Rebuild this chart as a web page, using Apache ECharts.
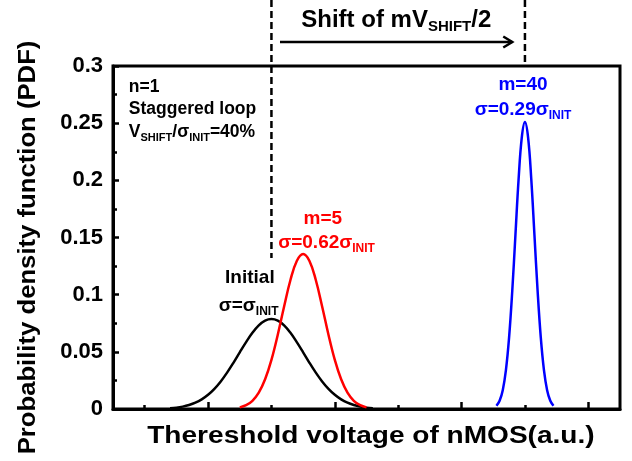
<!DOCTYPE html>
<html><head><meta charset="utf-8">
<script src="https://cdn.jsdelivr.net/npm/echarts@6/dist/echarts.min.js"></script>
<style>html,body{margin:0;padding:0;background:#fff}#c{width:632px;height:461px}</style>
</head><body><div id="c"></div>
<script>
// Initial distribution (black)
const initialX = [0.4,0.5,0.6,0.7,0.8,0.9,1.0,1.1,1.2,1.3,1.4,1.5,1.6,1.7,1.8,1.9,2.0,2.1,2.2,2.3,2.4,2.5,2.6,2.7,2.8,2.9,3.0,3.1,3.2,3.3,3.4,3.5,3.6];
const initialY = [0.0007,0.0012,0.0021,0.0035,0.0055,0.0084,0.0124,0.0176,0.0241,0.0318,0.0404,0.0496,0.0585,0.0666,0.0731,0.0773,0.0787,0.0773,0.0731,0.0666,0.0585,0.0496,0.0404,0.0318,0.0241,0.0176,0.0124,0.0084,0.0055,0.0035,0.0021,0.0012,0.0007];
// m=5 (red)
const m5X = [1.5,1.6,1.7,1.8,1.9,2.0,2.1,2.2,2.3,2.4,2.5,2.6,2.7,2.8,2.9,3.0,3.1,3.2,3.3,3.4,3.5];
const m5Y = [0.0014,0.0033,0.0072,0.0143,0.0260,0.0430,0.0650,0.0897,0.1128,0.1295,0.1356,0.1295,0.1128,0.0897,0.0650,0.0430,0.0260,0.0143,0.0072,0.0033,0.0014];
// m=40 (blue)
const m40X = [5.55,5.60,5.65,5.70,5.75,5.80,5.85,5.90,5.95,6.00,6.05,6.10,6.15,6.20,6.25,6.30,6.35,6.40,6.45];
const m40Y = [0.0028,0.0072,0.0165,0.0340,0.0626,0.1032,0.1522,0.2010,0.2374,0.2510,0.2374,0.2010,0.1522,0.1032,0.0626,0.0340,0.0165,0.0072,0.0028];
// axis ticks
const xMajorTicks = [1,3,5,7];
const xMinorTicks = [0,2,4,6];
const yMin = 0, yMax = 0.3, yInterval = 0.05;
const xMin = -0.5, xMax = 7.5;
const initialMean = 2.0, m40Mean = 6.0;

const pairs = (xs, ys) => xs.map((x, i) => [x, ys[i]]);
const FONT = 'Liberation Sans, Arial, sans-serif';

const chart = echarts.init(document.getElementById('c'), null, {renderer: 'canvas'});
const baseX = {
  type: 'value', min: xMin, max: xMax, gridIndex: 0, position: 'bottom',
  splitLine: {show: false}, axisLabel: {show: false}
};
const option = {
  backgroundColor: '#fff',
  animation: false,
  grid: {left: 113, right: 12, top: 66, bottom: 52, show: true, borderColor: '#000', borderWidth: 3, containLabel: false},
  xAxis: [
    Object.assign({}, baseX, {
      axisLine: {show: true, onZero: false, lineStyle: {color: '#000', width: 3}},
      axisTick: {show: true, inside: true, length: 7, customValues: xMajorTicks, lineStyle: {color: '#000', width: 2.5}}
    }),
    Object.assign({}, baseX, {
      axisLine: {show: false, onZero: false},
      axisTick: {show: true, inside: true, length: 4, customValues: xMinorTicks, lineStyle: {color: '#000', width: 2.5}}
    })
  ],
  yAxis: {
    type: 'value', min: yMin, max: yMax, interval: yInterval,
    splitLine: {show: false},
    axisLine: {show: true, onZero: false, lineStyle: {color: '#000', width: 3}},
    axisTick: {show: true, inside: true, length: 6, lineStyle: {color: '#000', width: 2.5}},
    minorTick: {show: true, splitNumber: 2, length: 4, lineStyle: {color: '#000', width: 2.5}},
    axisLabel: {color: '#000', fontSize: 22, fontWeight: 'bold', fontFamily: FONT, margin: 10}
  },
  series: [
    {type: 'line', data: pairs(initialX, initialY), smooth: 0.4, showSymbol: false, lineStyle: {color: '#000', width: 2.5}, z: 3},
    {type: 'line', data: pairs(m5X, m5Y), smooth: 0.4, showSymbol: false, lineStyle: {color: '#ff0000', width: 2.5}, z: 3},
    {type: 'line', data: pairs(m40X, m40Y), smooth: 0.4, showSymbol: false, lineStyle: {color: '#0000ff', width: 2.5}, z: 3}
  ]
};
chart.setOption(option);

const P = (x, y) => chart.convertToPixel({xAxisIndex: 0, yAxisIndex: 0}, [x, y]);
const topY = P(0, yMax)[1];
const botY = P(0, yMin)[1];

function rt(parts, size, color) {
  const subSize = Math.round(size * 0.63);
  return {
    text: parts,
    fill: color,
    font: 'bold ' + size + 'px ' + FONT,
    rich: {
      m: {fontSize: size, fontWeight: 'bold', fontFamily: FONT, color: color, lineHeight: size + 5},
      s: {fontSize: subSize, fontWeight: 'bold', fontFamily: FONT, color: color, lineHeight: subSize, verticalAlign: 'bottom'}
    }
  };
}
function label(xv, yv, parts, size, color, align) {
  const p = P(xv, yv);
  const st = rt(parts, size, color);
  st.align = align || 'center';
  st.verticalAlign = 'middle';
  return {type: 'text', x: p[0], y: p[1], z: 10, style: st};
}

const xl = P(initialMean, 0)[0];
const xr = P(m40Mean, 0)[0];
const arrowL = P(2.135, 0)[0];
const arrowR = P(5.80, 0)[0];
const arrowY = topY - 24;
const dash = {stroke: '#000', lineWidth: 2.5, lineDash: [7, 4]};
const solid = {stroke: '#000', lineWidth: 2.5};

const graphics = [
  {type: 'line', z: 5, shape: {x1: xl, y1: 0, x2: xl, y2: P(0, 0.132)[1]}, style: dash},
  {type: 'line', z: 5, shape: {x1: xr, y1: 0, x2: xr, y2: topY}, style: dash},
  {type: 'line', z: 5, shape: {x1: arrowL, y1: arrowY, x2: arrowR, y2: arrowY}, style: solid},
  {type: 'polyline', z: 5, shape: {points: [[arrowR - 9, arrowY - 5.5], [arrowR, arrowY], [arrowR - 9, arrowY + 5.5]]}, style: {stroke: '#000', lineWidth: 2.5, fill: null}},
  // header text
  (function () { const p = P(3.97, 0); const st = rt('{m|Shift of mV}{s|SHIFT}{m|/2}', 24, '#000'); st.align = 'center'; st.verticalAlign = 'middle'; return {type: 'text', x: p[0], y: topY - 46, z: 10, style: st}; })(),
  // left block
  label(-0.25, 0.2816, '{m|n=1}', 17.5, '#000', 'left'),
  label(-0.25, 0.2624, '{m|Staggered loop}', 17.5, '#000', 'left'),
  label(-0.25, 0.2425, '{m|V}{s|SHIFT}{m|/σ}{s|INIT}{m|=40%}', 17.5, '#000', 'left'),
  // initial
  label(1.66, 0.1146, '{m|Initial}', 19, '#000'),
  label(1.64, 0.0905, '{m|σ=σ}{s|INIT}', 19, '#000'),
  // m=5
  label(2.81, 0.1662, '{m|m=5}', 19, '#ff0000'),
  label(2.87, 0.1452, '{m|σ=0.62σ}{s|INIT}', 19, '#ff0000'),
  // m=40
  label(5.97, 0.2834, '{m|m=40}', 19, '#0000ff'),
  label(5.97, 0.2615, '{m|σ=0.29σ}{s|INIT}', 19, '#0000ff'),
  // axis titles
  {type: 'text', x: P(3.57, 0)[0], y: botY + 28, z: 10, scaleX: 1.22,
   style: {text: 'Thereshold voltage of nMOS(a.u.)', font: 'bold 23px ' + FONT, fill: '#000', align: 'center', verticalAlign: 'middle'}},
  {type: 'text', x: 28, y: (topY + botY) / 2 + 10, z: 10, rotation: Math.PI / 2, scaleX: 1.07,
   style: {text: 'Probability density function (PDF)', font: 'bold 24px ' + FONT, fill: '#000', align: 'center', verticalAlign: 'middle'}}
];
chart.setOption({graphic: graphics});
</script>
</body></html>
